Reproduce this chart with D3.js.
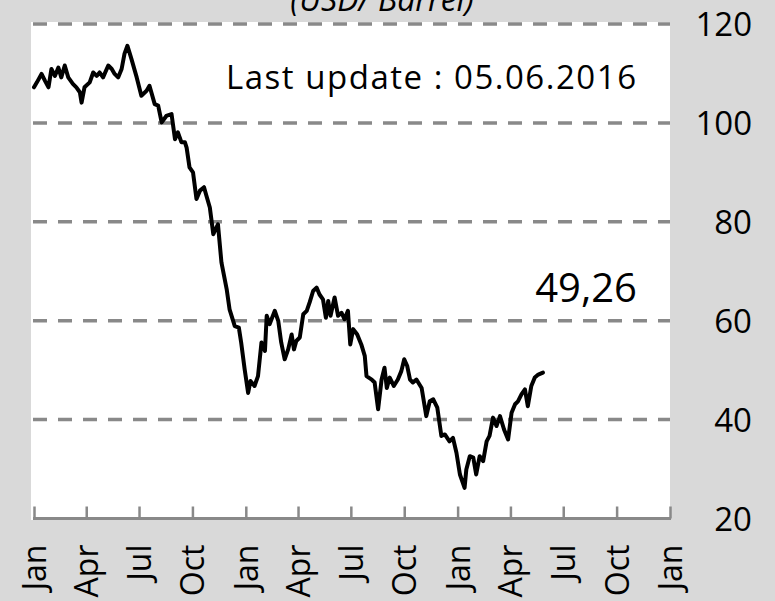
<!DOCTYPE html>
<html>
<head>
<meta charset="utf-8">
<script src="https://cdn.jsdelivr.net/npm/d3@7/dist/d3.min.js"></script>
<style>
  html, body { margin: 0; padding: 0; background: #d9d9d9; }
  svg { display: block; }
  text { font-family: "Open Sans", "Noto Sans", sans-serif; fill: #000; }
</style>
</head>
<body>
<svg id="chart" width="775" height="601"></svg>
<script>
// ---- data ----
const priceDates = [
  "2014-01-01","2014-01-06","2014-01-14","2014-01-20","2014-01-26","2014-01-31","2014-02-06","2014-02-12","2014-02-17","2014-02-23",
  "2014-03-01","2014-03-09","2014-03-15","2014-03-21","2014-03-24","2014-03-29","2014-04-07","2014-04-13","2014-04-19","2014-04-24",
  "2014-04-30","2014-05-09","2014-05-15","2014-05-20","2014-05-26","2014-06-01","2014-06-06","2014-06-11","2014-06-18","2014-06-27",
  "2014-07-05","2014-07-14","2014-07-19","2014-07-28","2014-08-03","2014-08-09","2014-08-17","2014-08-26","2014-09-01","2014-09-06",
  "2014-09-12","2014-09-18","2014-09-21","2014-09-26","2014-10-02","2014-10-08","2014-10-14","2014-10-21","2014-10-25","2014-10-31",
  "2014-11-06","2014-11-14","2014-11-20","2014-11-29","2014-12-04","2014-12-13","2014-12-20","2014-12-24","2014-12-30","2015-01-05",
  "2015-01-09","2015-01-16","2015-01-22","2015-01-28","2015-02-03","2015-02-06","2015-02-11","2015-02-20","2015-02-26","2015-03-03",
  "2015-03-09","2015-03-15","2015-03-21","2015-03-25","2015-03-29","2015-04-04","2015-04-10","2015-04-16","2015-04-21","2015-04-27",
  "2015-05-03","2015-05-08","2015-05-14","2015-05-19","2015-05-23","2015-05-27","2015-06-03","2015-06-09","2015-06-15","2015-06-20",
  "2015-06-26","2015-06-30","2015-07-05","2015-07-12","2015-07-19","2015-07-25","2015-07-28","2015-08-06","2015-08-11","2015-08-17",
  "2015-08-23","2015-08-28","2015-09-01","2015-09-06","2015-09-13","2015-09-20","2015-09-26","2015-10-01","2015-10-06","2015-10-11",
  "2015-10-16","2015-10-22","2015-10-31","2015-11-08","2015-11-14","2015-11-20","2015-11-27","2015-12-04","2015-12-10","2015-12-18",
  "2015-12-24","2015-12-30","2016-01-05","2016-01-13","2016-01-16","2016-01-22","2016-01-28","2016-02-02","2016-02-08","2016-02-14",
  "2016-02-20","2016-02-25","2016-03-02","2016-03-08","2016-03-14","2016-03-21","2016-03-28","2016-04-03","2016-04-09","2016-04-14",
  "2016-04-20","2016-04-26","2016-05-01","2016-05-07","2016-05-13","2016-05-19","2016-05-27"
];
const priceValues = [
  107.2,108.2,109.9,108.5,107.2,110.9,109.5,111.2,109.2,111.6,
  109.2,107.9,107.2,106.2,104.1,107.2,108.2,110.2,109.5,110.2,
  109.2,111.6,110.9,109.9,109.2,110.9,114.0,115.6,112.9,109.2,
  105.5,106.5,107.5,103.8,103.5,100.1,101.4,101.8,96.7,98.1,
  96.1,96.1,95.0,91.0,90.0,84.6,86.3,87.0,85.3,82.9,
  77.5,79.5,71.8,66.4,62.3,58.9,58.6,55.6,50.2,45.4,
  47.8,46.8,48.8,55.6,53.9,61.0,59.3,62.0,59.9,55.6,
  52.2,54.2,57.2,54.2,55.9,56.6,61.3,62.0,63.7,66.0,
  66.7,65.3,64.3,60.6,64.0,61.0,64.7,61.0,61.6,60.3,
  62.0,55.2,58.3,57.2,55.2,52.9,48.8,48.1,47.5,42.1,
  48.1,50.5,46.4,48.5,46.8,48.1,49.8,52.2,50.9,48.1,
  47.5,48.1,46.4,40.7,43.7,44.1,42.4,36.7,37.0,35.6,
  36.3,33.3,28.9,26.2,29.9,32.6,32.3,28.9,32.6,31.6,
  35.6,36.7,40.4,38.7,40.7,38.0,36.0,41.4,43.1,43.7,
  45.1,46.1,42.7,46.8,48.5,49.1,49.5
];
const yTicks = [20, 40, 60, 80, 100, 120];
const xDomain = ["2014-01-01", "2017-01-01"];
const titleText = "(USD/ Barrel)";
const updateText = "Last update :  05.06.2016";
const lastValueText = "49,26";

// ---- layout ----
const svg = d3.select("#chart");
const parse = d3.utcParse("%Y-%m-%d");
const data = priceDates.map((d, i) => ({ date: parse(d), value: priceValues[i] }));

const x = d3.scaleUtc().domain(xDomain.map(parse)).range([34, 670]);
const y = d3.scaleLinear().domain([20, 120]).range([518.5, 24]);

// plot area
svg.append("rect")
  .attr("x", 31).attr("y", 22)
  .attr("width", 639).attr("height", 498)
  .attr("fill", "#ffffff");

// gridlines
svg.append("g").selectAll("line")
  .data(yTicks.filter(v => v > 20))
  .join("line")
  .attr("x1", 33).attr("x2", 670)
  .attr("y1", d => y(d)).attr("y2", d => y(d))
  .attr("stroke", "#898989")
  .attr("stroke-width", 3.5)
  .attr("stroke-dasharray", "14,11");

// x axis
const xAxis = d3.axisBottom(x)
  .ticks(d3.utcMonth.every(3))
  .tickSize(-12)
  .tickFormat(d3.utcFormat("%b"));
const gx = svg.append("g").attr("transform", `translate(0,${y(20)})`).call(xAxis);
gx.select(".domain").attr("stroke", "#898989").attr("stroke-width", 3)
  .attr("d", `M${x.range()[0] - 1},0H${x.range()[1] + 1}`);
gx.selectAll(".tick line").attr("stroke", "#898989").attr("stroke-width", 2.5);
gx.selectAll(".tick text")
  .attr("font-family", "Open Sans")
  .attr("font-size", 32)
  .attr("fill", "#000")
  .attr("text-anchor", "end")
  .attr("transform", "translate(0,26) rotate(-90)")
  .attr("x", 0).attr("y", 0)
  .attr("dy", "0.36em");

// y axis (right)
const yAxis = d3.axisRight(y).tickValues(yTicks).tickSize(0).tickPadding(0);
const gy = svg.append("g").attr("transform", "translate(752,0)").call(yAxis);
gy.select(".domain").remove();
gy.selectAll(".tick text")
  .attr("font-family", "Open Sans")
  .attr("font-size", 33)
  .attr("fill", "#000")
  .attr("text-anchor", "end")
  .attr("x", 0)
  .attr("dy", "0.36em");

// price line
const line = d3.line().x(d => x(d.date)).y(d => y(d.value));
svg.append("path")
  .datum(data)
  .attr("fill", "none")
  .attr("stroke", "#000")
  .attr("stroke-width", 4)
  .attr("stroke-linejoin", "round")
  .attr("stroke-linecap", "round")
  .attr("d", line);

// texts
svg.append("text")
  .attr("x", 382).attr("y", 11)
  .attr("text-anchor", "middle")
  .attr("font-size", 32)
  .attr("font-style", "italic")
  .text(titleText);

svg.append("text")
  .attr("x", 226).attr("y", 89)
  .attr("font-size", 33)
  .attr("textLength", 410)
  .attr("lengthAdjust", "spacing")
  .text(updateText);

svg.append("text")
  .attr("x", 637).attr("y", 302)
  .attr("text-anchor", "end")
  .attr("font-size", 40)
  .text(lastValueText);
</script>
</body>
</html>
